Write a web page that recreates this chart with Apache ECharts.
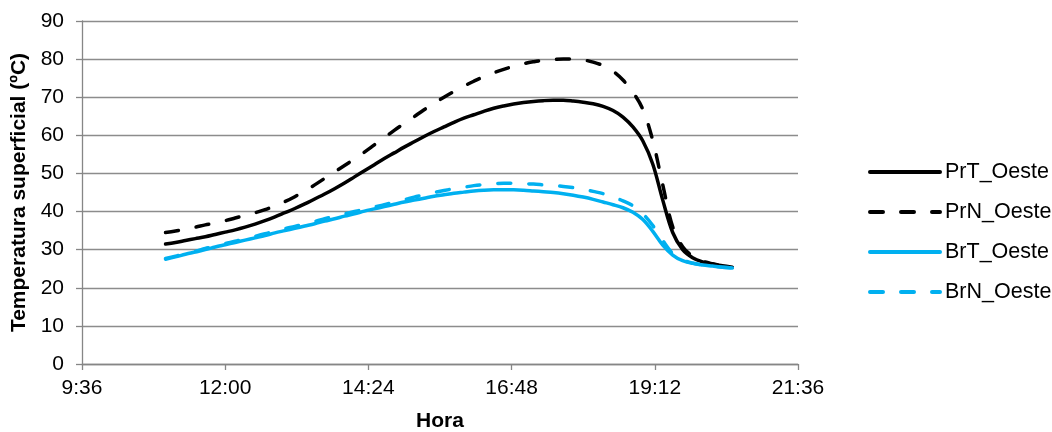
<!DOCTYPE html>
<html>
<head>
<meta charset="utf-8">
<script src="https://cdn.jsdelivr.net/npm/echarts@6/dist/echarts.min.js"></script>
<style>html,body{margin:0;padding:0;background:#fff}#c{width:1052px;height:432px}</style>
</head>
<body>
<div id="c"></div>
<script>
// times every 10 minutes, 11:00 .. 20:30
var times = ["11:00","11:10","11:20","11:30","11:40","11:50","12:00","12:10","12:20","12:30","12:40","12:50",
"13:00","13:10","13:20","13:30","13:40","13:50","14:00","14:10","14:20","14:30","14:40","14:50",
"15:00","15:10","15:20","15:30","15:40","15:50","16:00","16:10","16:20","16:30","16:40","16:50",
"17:00","17:10","17:20","17:30","17:40","17:50","18:00","18:10","18:20","18:30","18:40","18:50",
"19:00","19:10","19:20","19:30","19:40","19:50","20:00","20:10","20:20","20:30"];
var PrT_Oeste = [31.5,31.9,32.4,32.9,33.4,34.0,34.6,35.2,35.9,36.7,37.6,38.6,
39.7,40.8,42.0,43.3,44.6,46.0,47.5,49.1,50.7,52.3,53.9,55.4,
56.9,58.3,59.7,61.0,62.2,63.4,64.5,65.4,66.3,67.1,67.7,68.2,
68.6,68.9,69.1,69.2,69.2,69.0,68.7,68.3,67.6,66.5,64.8,62.2,
58.5,52.4,43.0,34.5,30.0,27.9,26.8,26.2,25.8,25.4];
var PrN_Oeste = [34.5,34.9,35.4,35.9,36.5,37.0,37.6,38.3,39.0,39.7,40.5,41.5,
42.6,43.9,45.4,47.0,48.7,50.4,52.1,53.8,55.6,57.5,59.4,61.3,
63.1,64.9,66.7,68.4,70.0,71.5,72.9,74.2,75.4,76.4,77.3,78.1,
78.8,79.3,79.7,79.9,80.0,80.0,79.8,79.2,78.3,76.8,74.5,71.3,
66.8,58.6,47.0,36.0,30.8,28.3,27.0,26.3,25.8,25.4];
var BrT_Oeste = [27.5,28.1,28.8,29.4,30.0,30.7,31.3,31.9,32.5,33.1,33.7,34.4,
35.0,35.6,36.2,36.8,37.5,38.1,38.8,39.4,40.1,40.7,41.3,41.9,
42.5,43.0,43.5,44.0,44.4,44.8,45.1,45.4,45.6,45.7,45.7,45.7,
45.6,45.4,45.2,45.0,44.7,44.3,43.8,43.2,42.5,41.8,41.0,39.8,
37.9,34.8,31.2,28.6,27.1,26.4,26.0,25.7,25.4,25.2];
var BrN_Oeste = [27.7,28.3,29.0,29.6,30.3,30.9,31.6,32.2,32.9,33.5,34.2,34.8,
35.5,36.1,36.8,37.4,38.1,38.8,39.4,40.0,40.6,41.2,41.8,42.5,
43.1,43.8,44.4,45.0,45.5,46.0,46.4,46.8,47.1,47.3,47.4,47.4,
47.3,47.2,47.0,46.8,46.6,46.3,45.9,45.3,44.7,43.8,42.8,41.5,
39.4,36.3,32.4,29.0,27.3,26.5,26.0,25.7,25.4,25.2];
var xTickMin = 576, xTickMax = 1296, xTickStep = 144; // 9:36 .. 21:36 in minutes
var yMin = 0, yMax = 90, yStep = 10;

function toMin(s){var p=s.split(':');return +p[0]*60 + +p[1];}
function fmt(v){var h=Math.floor(v/60),m=Math.round(v%60);return h+':'+(m<10?'0':'')+m;}
function pairs(vals){return times.map(function(t,i){return [toMin(t), vals[i]];});}

var BLACK = '#000000', BLUE = '#00B0F0';
var dash = [13, 18];
function mk(name, vals, color, dashed){
  return {name:name, type:'line', data:pairs(vals), smooth:0.35, symbol:'none', showSymbol:false,
    lineStyle:{color:color, width:3.5, type: dashed?dash:'solid', cap:'round', join:'round'},
    itemStyle:{color:color}};
}
var FS = 21;
var chart = echarts.init(document.getElementById('c'), null, {renderer:'canvas'});
chart.setOption({
  animation:false,
  backgroundColor:'#ffffff',
  textStyle:{fontFamily:'Liberation Sans, Arial, sans-serif'},
  grid:{left:82, right:254, top:21, bottom:68, containLabel:false, outerBoundsMode:'none'},
  xAxis:{type:'value', min:xTickMin, max:xTickMax, interval:xTickStep,
    name:'Hora', nameLocation:'middle', nameGap:47,
    nameTextStyle:{fontSize:FS, fontWeight:'bold', color:'#000'},
    axisLine:{show:true, onZero:false, lineStyle:{color:'#868686', width:1.3}},
    axisTick:{show:true, length:6, lineStyle:{color:'#868686', width:1.3}},
    axisLabel:{formatter:fmt, fontSize:FS, color:'#000', margin:14},
    splitLine:{show:false}},
  yAxis:{type:'value', min:yMin, max:yMax, interval:yStep,
    name:'Temperatura superficial (ºC)', nameLocation:'middle', nameGap:49,
    nameTextStyle:{fontSize:FS, fontWeight:'bold', color:'#000'},
    axisLine:{show:true, lineStyle:{color:'#868686', width:1.3}},
    axisTick:{show:true, length:6, lineStyle:{color:'#868686', width:1.3}},
    axisLabel:{fontSize:FS, color:'#000', margin:18},
    splitLine:{show:true, lineStyle:{color:'#8c8c8c', width:1.3}}},
  legend:{orient:'vertical', left:868, top:161, padding:0, itemWidth:70, itemHeight:14, itemGap:18,
    itemStyle:{opacity:0}, lineStyle:{width:4},
    textStyle:{fontSize:21.5, color:'#000'},
    data:['PrT_Oeste','PrN_Oeste','BrT_Oeste','BrN_Oeste']},
  series:[
    mk('PrT_Oeste', PrT_Oeste, BLACK, false),
    mk('PrN_Oeste', PrN_Oeste, BLACK, true),
    mk('BrT_Oeste', BrT_Oeste, BLUE, false),
    mk('BrN_Oeste', BrN_Oeste, BLUE, true)
  ]
});
</script>
</body>
</html>
